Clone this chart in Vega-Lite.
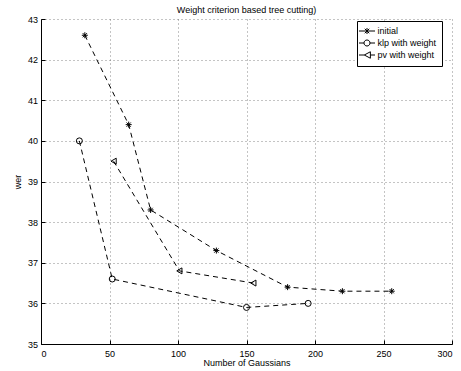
{
  "$schema": "https://vega.github.io/schema/vega-lite/v6.json",
  "width": 411,
  "height": 325,
  "autosize": "none",
  "padding": {"left": 41, "top": 19, "right": 9, "bottom": 27},
  "background": "white",
  "title": {"text": "Weight criterion based tree cutting)", "fontSize": 9, "fontWeight": "normal", "font": "Liberation Sans", "offset": 0, "color": "black"},
  "config": {
    "view": {"stroke": null},
    "font": "Liberation Sans",
    "legend": {"strokeWidth": 1},
    "axis": {
      "domainColor": "black", "domainWidth": 1,
      "tickColor": "black", "tickSize": -4,
      "labelFont": "Liberation Sans", "labelFontSize": 9, "labelColor": "black",
      "titleFont": "Liberation Sans", "titleFontSize": 9, "titleFontWeight": "normal", "titleColor": "black",
      "grid": true, "gridColor": "#555", "gridDash": [1, 3], "gridWidth": 1, "gridOpacity": 0.7
    }
  },
  "data": {"values": [
    {"series": "initial", "x": 32, "y": 42.6},
    {"series": "initial", "x": 64, "y": 40.4},
    {"series": "initial", "x": 80, "y": 38.3},
    {"series": "initial", "x": 128, "y": 37.3},
    {"series": "initial", "x": 180, "y": 36.4},
    {"series": "initial", "x": 220, "y": 36.3},
    {"series": "initial", "x": 256, "y": 36.3},
    {"series": "klp with weight", "x": 28, "y": 40.0},
    {"series": "klp with weight", "x": 52, "y": 36.6},
    {"series": "klp with weight", "x": 150, "y": 35.9},
    {"series": "klp with weight", "x": 195, "y": 36.0},
    {"series": "pv with weight", "x": 53, "y": 39.5},
    {"series": "pv with weight", "x": 101, "y": 36.8},
    {"series": "pv with weight", "x": 155, "y": 36.5}
  ]},
  "layer": [
    {
      "mark": {"type": "line", "color": "black", "strokeWidth": 1, "strokeDash": [5, 4]},
      "encoding": {
        "x": {"field": "x", "type": "quantitative", "scale": {"domain": [0, 300], "nice": false}, "axis": {"values": [0, 50, 100, 150, 200, 250, 300], "title": "Number of Gaussians", "labelPadding": 9, "titlePadding": 0}},
        "y": {"field": "y", "type": "quantitative", "scale": {"domain": [35, 43], "nice": false, "zero": false}, "axis": {"values": [35, 36, 37, 38, 39, 40, 41, 42, 43], "title": "wer", "labelPadding": 7.5, "titlePadding": 5}},
        "detail": {"field": "series", "type": "nominal"}
      }
    },
    {
      "mark": {"type": "point", "filled": false, "stroke": "black", "strokeWidth": 1, "size": 36, "opacity": 1},
      "encoding": {
        "x": {"field": "x", "type": "quantitative"},
        "y": {"field": "y", "type": "quantitative"},
        "shape": {"field": "series", "type": "nominal", "legend": null, "scale": {"domain": ["initial", "klp with weight", "pv with weight"], "range": ["M-1,0H1M0,-1V1M-0.7,-0.7L0.7,0.7M-0.7,0.7L0.7,-0.7", "circle", "triangle-left"]}}
      }
    },
    {
      "transform": [{"filter": "datum.x > 1000"}],
      "mark": {"type": "point", "filled": false, "stroke": "black", "strokeWidth": 1, "opacity": 1},
      "encoding": {
        "x": {"field": "x", "type": "quantitative"},
        "y": {"field": "y", "type": "quantitative"},
        "shape": {"field": "series", "type": "nominal",
          "scale": {"domain": ["initial", "klp with weight", "pv with weight"], "range": [
            "M-1.78,0H1.78M0,-0.67V0.67M-0.5,-0.5L0.5,0.5M-0.5,0.5L0.5,-0.5",
            "M-1.78,0H-0.67M0.67,0H1.78M0.67,0A0.67,0.67 0 1,1 -0.67,0A0.67,0.67 0 1,1 0.67,0",
            "M-1.78,0H-0.6M0.75,0H1.78M-0.6,0L0.75,-0.72L0.75,0.72Z"]},
          "legend": {"title": null, "orient": "none", "legendX": 316, "legendY": 2, "strokeColor": "black", "fillColor": "white", "padding": 5, "symbolSize": 81, "symbolStrokeWidth": 1, "symbolStrokeColor": "black", "symbolFillColor": "transparent", "labelFont": "Liberation Sans", "labelFontSize": 9, "labelColor": "black", "labelOffset": 5.5, "rowPadding": 0, "symbolOpacity": 1}
        }
      }
    }
  ],
  "resolve": {"scale": {"shape": "independent"}, "legend": {"shape": "independent"}}
}
